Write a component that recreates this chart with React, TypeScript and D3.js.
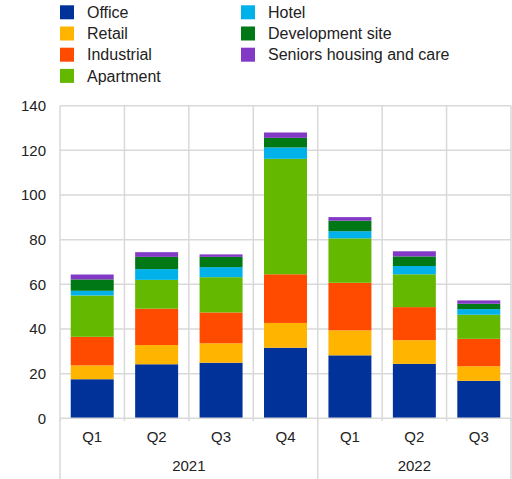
import React from "react";
import * as d3 from "d3";

const quarters = ["Q1", "Q2", "Q3", "Q4", "Q1", "Q2", "Q3"];
const years = ["2021", "2022"];
const yearSpans = [4, 3];
const seriesNames = ["Office", "Retail", "Industrial", "Apartment", "Hotel", "Development site", "Seniors housing and care"];
const seriesColors = ["#003299", "#FFB400", "#FF4B00", "#65B800", "#00B1EA", "#007816", "#8139C6"];
const office = [17.5, 24.2, 24.9, 31.6, 28.2, 24.4, 16.8];
const retail = [6.2, 8.6, 8.7, 11.1, 11.2, 10.6, 6.5];
const industrial = [12.8, 16.3, 13.8, 21.8, 21.3, 14.8, 12.3];
const apartment = [18.5, 12.9, 15.8, 51.7, 19.9, 14.7, 10.8];
const hotel = [2.1, 4.8, 4.5, 5.1, 3.2, 3.7, 2.5];
const development = [5.1, 5.5, 4.6, 4.3, 4.7, 4.3, 2.4];
const seniors = [2.2, 2.1, 1.1, 2.4, 1.6, 2.3, 1.5];
const yTicks = [0, 20, 40, 60, 80, 100, 120, 140];

const series = [office, retail, industrial, apartment, hotel, development, seniors];

export default function App() {
  const W = 512, H = 479;
  const left = 60, right = 511, top = 105.7, bottom = 418.3;
  const idx = quarters.map((_, i) => i);
  const x = d3.scaleBand<number>().domain(idx).range([left, right]).paddingInner(0.333).paddingOuter(0.1665);
  const y = d3.scaleLinear().domain([0, 140]).range([bottom, top]);
  const rows = idx.map((i) => {
    const o: any = { i };
    seriesNames.forEach((n, k) => (o[n] = series[k][i]));
    return o;
  });
  const stacked = d3.stack<any>().keys(seriesNames)(rows);
  const step = (right - left) / quarters.length;
  const font = "Liberation Sans, Arial, sans-serif";
  const grid = "#d9d9d9";

  let acc = 0;
  const yearBounds = yearSpans.map((s) => {
    const a = acc;
    acc += s;
    return [a, acc];
  });

  return (
    <svg width={W} height={H} style={{ position: "absolute", left: 0, top: 0 }} fontFamily={font}>
      {/* legend */}
      {seriesNames.map((n, k) => {
        const col = k < 4 ? 0 : 1;
        const row = k < 4 ? k : k - 4;
        const lx = col === 0 ? 60 : 241;
        const ly = 12.3 + row * 21.2;
        return (
          <g key={n}>
            <rect x={lx} y={ly - 7} width={14} height={14} fill={seriesColors[k]} />
            <text x={lx + 27} y={ly} dy="0.35em" fontSize={16} fill="#222">{n}</text>
          </g>
        );
      })}
      {/* horizontal grid */}
      {yTicks.map((t) => (
        <g key={t}>
          {t > 0 && <line x1={left} x2={right} y1={y(t)} y2={y(t)} stroke={grid} strokeWidth={1.5} />}
          <text x={46} y={y(t)} dy="0.35em" textAnchor="end" fontSize={15} fill="#222">{t}</text>
        </g>
      ))}
      {/* vertical grid */}
      {d3.range(quarters.length + 1).map((i) => (
        <line key={i} x1={left + i * step} x2={left + i * step} y1={top} y2={bottom + 3} stroke={grid} strokeWidth={1.5} />
      ))}
      {/* year separators */}
      {[0, ...yearBounds.map((b) => b[1])].map((b) => (
        <line key={"s" + b} x1={left + b * step} x2={left + b * step} y1={bottom} y2={H} stroke={grid} strokeWidth={1.5} />
      ))}
      {/* bars */}
      {stacked.map((layer, k) => (
        <g key={layer.key} fill={seriesColors[k]}>
          {layer.map((d, i) => (
            <rect key={i} x={x(i)} width={x.bandwidth()} y={y(d[1])} height={y(d[0]) - y(d[1])} />
          ))}
        </g>
      ))}
      {/* axis line */}
      <line x1={left} x2={right} y1={bottom} y2={bottom} stroke={grid} strokeWidth={1.5} />
      {/* quarter labels */}
      {quarters.map((q, i) => (
        <text key={i} x={x(i)! + x.bandwidth() / 2} y={437} dy="0.35em" textAnchor="middle" fontSize={15} fill="#222">{q}</text>
      ))}
      {years.map((yr, j) => (
        <text key={yr} x={left + ((yearBounds[j][0] + yearBounds[j][1]) / 2) * step} y={466} dy="0.35em" textAnchor="middle" fontSize={15} fill="#222">{yr}</text>
      ))}
    </svg>
  );
}
